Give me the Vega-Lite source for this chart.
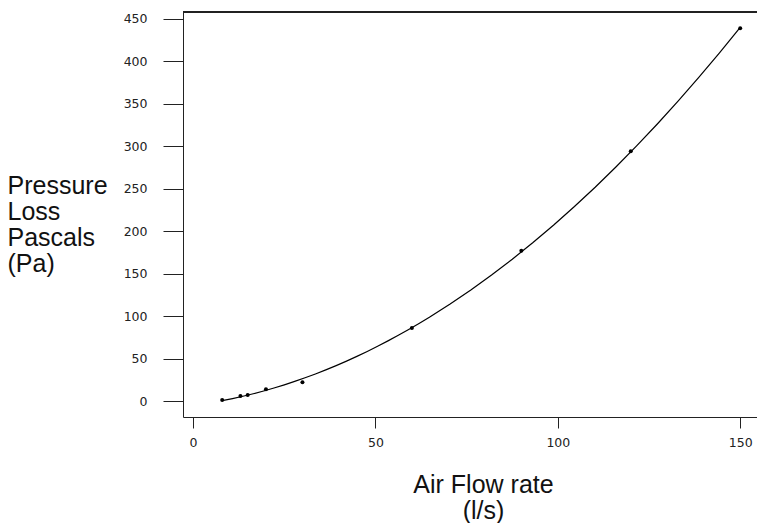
{
  "$schema": "https://vega.github.io/schema/vega-lite/v6.json",
  "width": 574,
  "height": 405,
  "padding": {"left": 7, "top": 11, "right": 0, "bottom": 0},
  "background": "white",
  "config": {
    "view": {"stroke": null},
    "axis": {
      "labelFont": "DejaVu Sans",
      "labelFontSize": 12.5,
      "labelColor": "#222",
      "titleFont": "Liberation Sans",
      "titleFontSize": 25,
      "titleFontWeight": "normal",
      "titleColor": "#111",
      "domainColor": "#222",
      "tickColor": "#222",
      "grid": false
    }
  },
  "data": {
    "values": [
      {"flow": 8, "loss": 1.2},
      {"flow": 13, "loss": 5.9},
      {"flow": 15, "loss": 7},
      {"flow": 20, "loss": 14},
      {"flow": 30, "loss": 22},
      {"flow": 60, "loss": 86},
      {"flow": 90, "loss": 177},
      {"flow": 120, "loss": 294},
      {"flow": 150, "loss": 439}
    ]
  },
  "encoding": {
    "x": {
      "field": "flow",
      "type": "quantitative",
      "scale": {"domain": [-2.74, 154.6], "nice": false, "zero": false},
      "axis": {
        "values": [0, 50, 100, 150],
        "tickSize": 11,
        "labelPadding": 8,
        "title": ["Air Flow rate", "(l/s)"],
        "titleX": 300,
        "titleY": 75,
        "titleBaseline": "alphabetic",
        "titleLineHeight": 26,
        "titleAlign": "center"
      }
    },
    "y": {
      "field": "loss",
      "type": "quantitative",
      "scale": {"domain": [-18.8, 458], "nice": false, "zero": false},
      "axis": {
        "values": [0, 50, 100, 150, 200, 250, 300, 350, 400, 450],
        "tickSize": 20,
        "labelPadding": 16,
        "title": ["Pressure", "Loss", "Pascals", "(Pa)"],
        "titleAngle": 0,
        "titleAlign": "left",
        "titleBaseline": "alphabetic",
        "titleX": -176,
        "titleY": 181,
        "titleLineHeight": 26.3
      }
    }
  },
  "layer": [
    {
      "transform": [
        {"regression": "loss", "on": "flow", "method": "poly", "order": 2, "extent": [8, 150]}
      ],
      "mark": {"type": "line", "color": "black", "strokeWidth": 1.2, "clip": true}
    },
    {
      "mark": {"type": "point", "filled": true, "color": "black", "size": 16, "opacity": 1}
    },
    {
      "mark": {"type": "rule", "color": "#222", "strokeWidth": 1.3},
      "encoding": {"y": {"datum": 458}, "x": null}
    }
  ]
}
